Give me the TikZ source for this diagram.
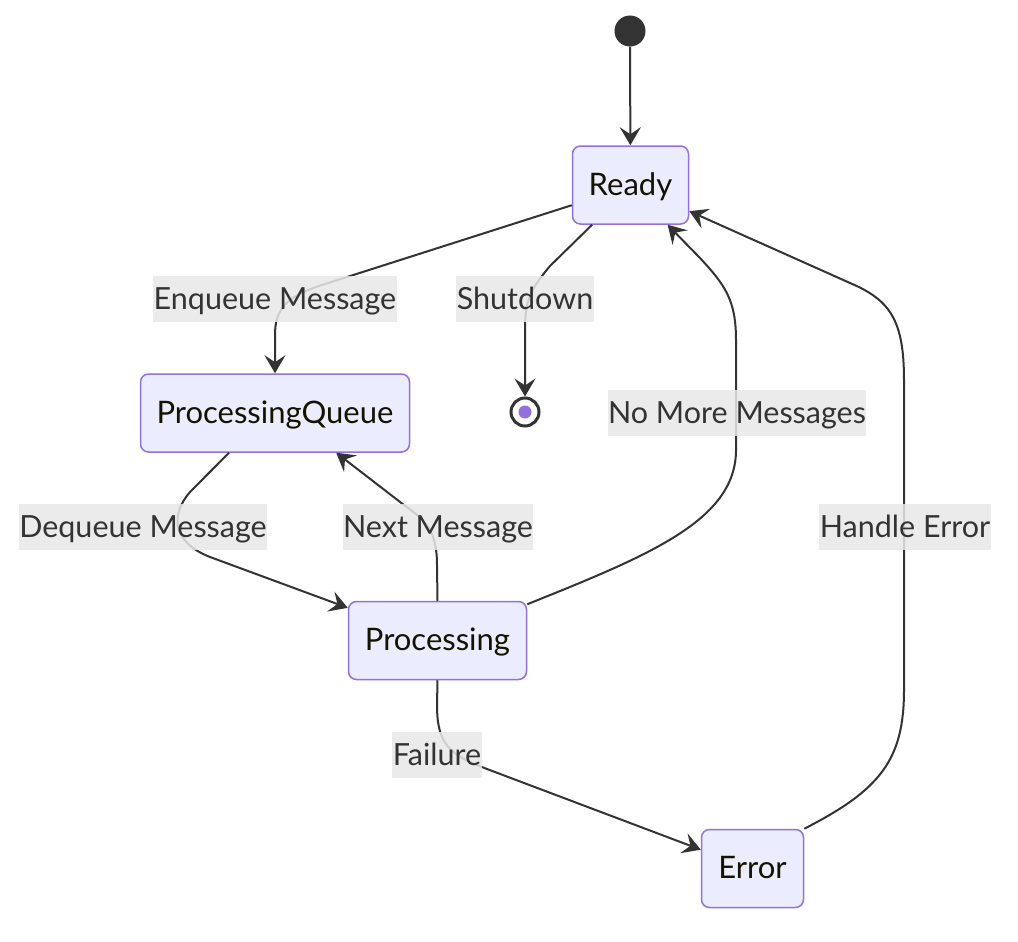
\documentclass[tikz,border=0pt]{standalone}
\usepackage{fontspec}
\setmainfont{Lato}
\usepackage{tikz}
\usetikzlibrary{arrows.meta,calc}
\definecolor{stateFill}{HTML}{ECECFF}
\definecolor{stateLine}{HTML}{9370DB}
\definecolor{edgeLine}{HTML}{333333}
\definecolor{labelFill}{HTML}{E8E8E8}
\definecolor{stateText}{HTML}{131300}

\tikzset{
	statebox/.style={draw=stateLine, fill=stateFill, line width=1.5pt, rounded corners=8pt, minimum height=78pt, inner xsep=0pt, text=stateText, text height=23pt, text depth=3pt, font=\fontsize{31}{36}\selectfont},
	trans/.style={draw=edgeLine, line width=2pt, ->, >={Stealth[length=18pt,width=21pt,inset=7pt]}},
	edgelabel/.style={fill=labelFill, fill opacity=0.85, text opacity=1, text=edgeLine, inner xsep=0.5pt, inner ysep=0pt, text height=23pt, text depth=3pt, minimum height=46pt, font=\fontsize{30.5}{36}\selectfont}
}

\begin{document}
\begin{tikzpicture}[x=1pt, y=-1pt]
	\useasboundingbox (0,0) rectangle (1018,942);

	\node[circle, fill=edgeLine, minimum size=31pt, inner sep=0pt] (start) at (630,31) {};
	\node[statebox, minimum width=116pt] (ready) at (630.5,185) {Ready};
	\node[statebox, minimum width=269pt] (queue) at (275,413) {ProcessingQueue};
	\node[circle, draw=edgeLine, fill=white, line width=3pt, minimum size=28pt, inner sep=0pt] (stop) at (525,412) {};
	\fill[stateLine] (stop) circle (6.5pt);
	\node[statebox, minimum width=178pt] (processing) at (437.5,640.5) {Processing};
	\node[statebox, minimum width=102pt] (error) at (752.5,868.5) {Error};

	\draw[trans] (start) -- (ready);
	\draw[trans] (ready.199) -- (322,285) .. controls (285,297) and (275,310) .. (275,335) -- (queue.north);
	\draw[trans] (ready.226) -- (550,266) .. controls (530,290) and (525,300) .. (525,330) -- (stop);
	\draw[trans] ($(queue.south)+(-46,0)$) -- (190,492) .. controls (170,515) and (172,542) .. (210,557) -- (processing.160);
	\draw[trans] (processing.north) -- (437,565) .. controls (437,530) and (425,520) .. (404,505) -- (queue.-33);
	\draw[trans] (processing.22) .. controls (650,555) and (736,520) .. (736,450) -- (736,340) .. controls (736,300) and (725,285) .. (700,258) -- (ready.-47);
	\draw[trans] (error.north east) .. controls (880,790) and (904,760) .. (904,690) -- (904,380) .. controls (904,320) and (890,300) .. (850,283) -- (ready.-24);
	\draw[trans] (processing.south) -- (437,705) .. controls (437,745) and (450,755) .. (487,769) -- (error.160);

	\node[edgelabel] (enqueue) at (275,299) {Enqueue Message};
	\node[edgelabel] (shutdown) at (525,299) {Shutdown};
	\node[edgelabel] (nomore) at (737,413) {No More Messages};
	\node[edgelabel] (dequeue) at (143,527) {Dequeue Message};
	\node[edgelabel] (next) at (438,527) {Next Message};
	\node[edgelabel] (handle) at (905,527) {Handle Error};
	\node[edgelabel] (failure) at (437,755) {Failure};
\end{tikzpicture}
\end{document}
